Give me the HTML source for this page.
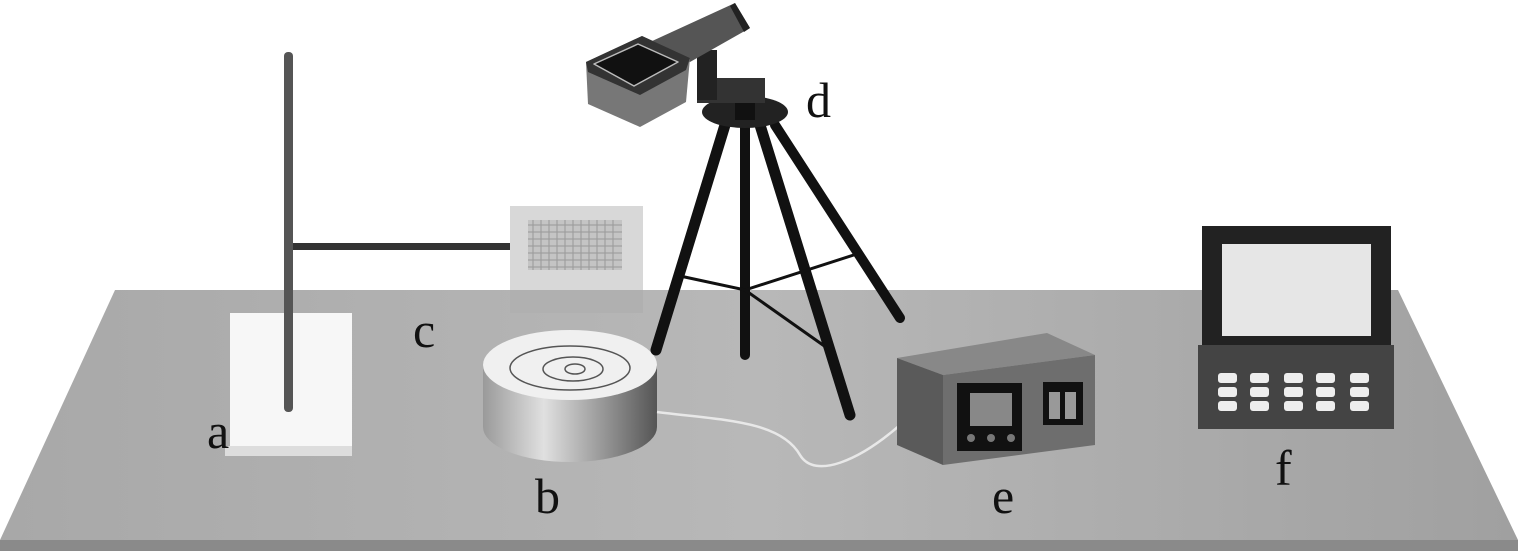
<!DOCTYPE html>
<html><head><style>body{margin:0;background:#fff}svg{display:block}text{font-family:"Liberation Serif",serif;font-size:50px;fill:#111}</style></head><body>
<svg width="1518" height="551" viewBox="0 0 1518 551">
<defs>
<linearGradient id="tb" x1="0" x2="1"><stop offset="0" stop-color="#a8a8a8"/><stop offset="0.5" stop-color="#b8b8b8"/><stop offset="1" stop-color="#a0a0a0"/></linearGradient>
<linearGradient id="cyl" x1="0" x2="1"><stop offset="0" stop-color="#9a9a9a"/><stop offset="0.35" stop-color="#e0e0e0"/><stop offset="1" stop-color="#555"/></linearGradient>
</defs>
<polygon points="115,290 1398,290 1518,540 0,540" fill="url(#tb)"/>
<polygon points="0,540 1518,540 1518,551 0,551" fill="#8a8a8a"/>
<!-- a -->
<rect x="230" y="313" width="122" height="133" fill="#f7f7f7"/>
<rect x="225" y="446" width="127" height="10" fill="#ddd"/>
<rect x="290" y="243" width="220" height="7" fill="#333"/>
<rect x="284" y="52" width="9" height="360" rx="4" fill="#555"/>
<!-- c -->
<rect x="510" y="206" width="133" height="107" fill="#d8d8d8"/>
<rect x="510" y="290" width="133" height="23" fill="#b0b0b0"/>
<rect x="528" y="220" width="94" height="50" fill="#c4c4c4"/>
<g stroke="#999" stroke-width="1">
<path d="M528 225H622M528 232H622M528 239H622M528 246H622M528 253H622M528 260H622M528 267H622"/>
<path d="M533 220V270M541 220V270M549 220V270M557 220V270M565 220V270M573 220V270M581 220V270M589 220V270M597 220V270M605 220V270M613 220V270"/>
</g>
<!-- b -->
<path d="M483 365 V427 A87 35 0 0 0 657 427 V365 Z" fill="url(#cyl)"/>
<ellipse cx="570" cy="365" rx="87" ry="35" fill="#f0f0f0"/>
<g fill="none" stroke="#555" stroke-width="1.5"><ellipse cx="570" cy="368" rx="60" ry="22"/><ellipse cx="573" cy="369" rx="30" ry="12"/><ellipse cx="575" cy="369" rx="10" ry="5"/></g>
<!-- cable -->
<path d="M657 412 C720 420 780 420 800 455 C815 480 860 460 900 425" fill="none" stroke="#e8e8e8" stroke-width="2.5"/>
<!-- tripod -->
<g stroke="#111" stroke-linecap="round">
<line x1="725" y1="125" x2="656" y2="350" stroke-width="11"/>
<line x1="745" y1="125" x2="745" y2="355" stroke-width="10"/>
<line x1="760" y1="125" x2="850" y2="415" stroke-width="11"/>
<line x1="775" y1="125" x2="900" y2="318" stroke-width="10"/>
<path d="M680 276L745 290L860 253M745 290L830 350" stroke-width="3" fill="none"/>
</g>
<ellipse cx="745" cy="112" rx="43" ry="16" fill="#222"/>
<rect x="735" y="95" width="20" height="25" fill="#111"/>
<rect x="697" y="78" width="68" height="25" fill="#333"/>
<rect x="697" y="50" width="20" height="50" fill="#222"/>
<polygon points="650,42 735,3 750,28 690,62" fill="#555"/>
<polygon points="735,3 750,28 744,32 730,6" fill="#222"/>
<polygon points="586,62 642,36 690,58 686,102 640,127 588,104" fill="#777"/>
<polygon points="586,62 642,36 690,58 686,70 640,95 588,72" fill="#333"/>
<polygon points="594,64 638,44 678,62 634,86" fill="#111" stroke="#bbb" stroke-width="1.5" stroke-linejoin="round"/>
<!-- labels -->
<text x="207" y="448">a</text><text x="535" y="513">b</text><text x="413" y="347">c</text><text x="806" y="117">d</text><text x="992" y="513">e</text><text x="1275" y="485">f</text>
<!-- e -->
<polygon points="897,358 1047,333 1095,355 943,375" fill="#888"/>
<polygon points="897,358 943,375 943,465 897,445" fill="#5a5a5a"/>
<polygon points="943,375 1095,355 1095,445 943,465" fill="#6e6e6e"/>
<rect x="957" y="383" width="65" height="68" fill="#111"/>
<rect x="970" y="393" width="42" height="33" fill="#888"/>
<circle cx="971" cy="438" r="4" fill="#777"/><circle cx="991" cy="438" r="4" fill="#777"/><circle cx="1011" cy="438" r="4" fill="#777"/>
<rect x="1043" y="382" width="40" height="43" fill="#111"/>
<rect x="1049" y="392" width="11" height="27" fill="#999"/><rect x="1065" y="392" width="11" height="27" fill="#999"/>
<!-- f -->
<rect x="1202" y="226" width="189" height="120" fill="#222"/>
<rect x="1222" y="244" width="149" height="92" fill="#e6e6e6"/>
<rect x="1198" y="345" width="196" height="84" fill="#444"/>
<g fill="#eee">
<rect x="1218" y="373" width="19" height="10" rx="3"/><rect x="1250" y="373" width="19" height="10" rx="3"/><rect x="1284" y="373" width="19" height="10" rx="3"/><rect x="1316" y="373" width="19" height="10" rx="3"/><rect x="1350" y="373" width="19" height="10" rx="3"/>
<rect x="1218" y="387" width="19" height="10" rx="3"/><rect x="1250" y="387" width="19" height="10" rx="3"/><rect x="1284" y="387" width="19" height="10" rx="3"/><rect x="1316" y="387" width="19" height="10" rx="3"/><rect x="1350" y="387" width="19" height="10" rx="3"/>
<rect x="1218" y="401" width="19" height="10" rx="3"/><rect x="1250" y="401" width="19" height="10" rx="3"/><rect x="1284" y="401" width="19" height="10" rx="3"/><rect x="1316" y="401" width="19" height="10" rx="3"/><rect x="1350" y="401" width="19" height="10" rx="3"/>
</g>
</svg>
</body></html>
